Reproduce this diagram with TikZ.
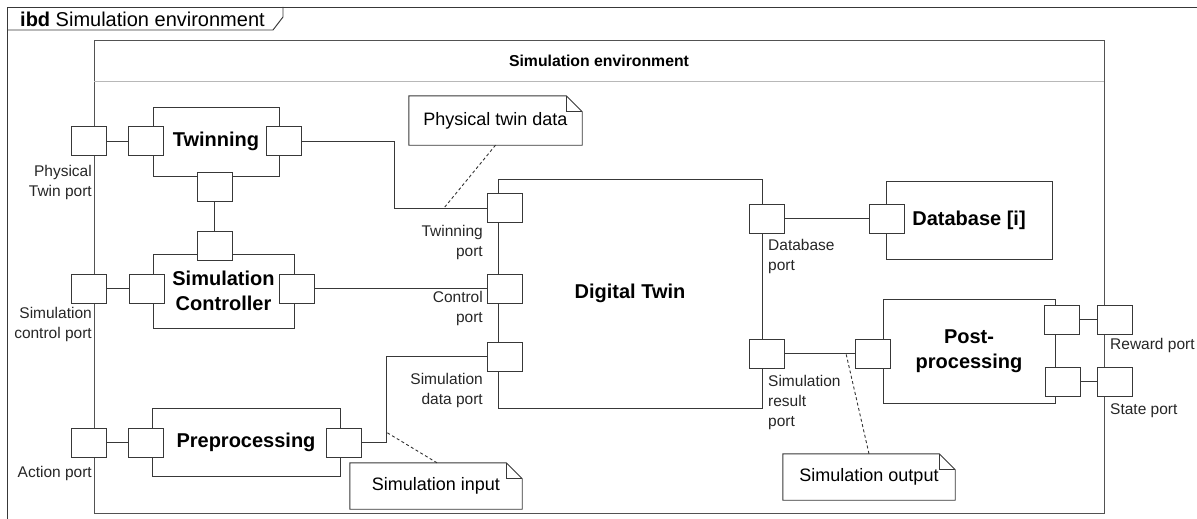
\documentclass[tikz,border=0pt]{standalone}
\usepackage{fontspec}
\setmainfont{Liberation Sans}
\newcommand{\foldnote}[1]{%
  \draw[notel] (#1.north west) -- ([xshift=-16pt]#1.north east)
    -- ([yshift=-16pt]#1.north east) -- (#1.south east)
    -- (#1.south west) -- cycle;
  \draw[notel] ([xshift=-16pt]#1.north east) |- ([yshift=-16pt]#1.north east);}
\begin{document}
\begin{tikzpicture}[x=1pt,y=-1pt,
  ln/.style={draw=black!78, line width=0.95pt},
  notel/.style={draw=black!78, line width=0.9pt},
  block/.style={ln, rectangle, inner sep=0pt, align=center,
    font=\bfseries\fontsize{20}{25}\selectfont},
  port/.style={ln, fill=white, rectangle, inner sep=0pt,
    minimum width=35pt, minimum height=29pt},
  lbl/.style={font=\fontsize{15.5}{20}\selectfont, inner sep=0pt, text=black!85},
  notetext/.style={font=\fontsize{18}{22}\selectfont, inner sep=0pt},
  dotline/.style={draw=black!80, line width=0.9pt, dash pattern=on 3pt off 2.5pt},
]
\path[use as bounding box, clip] (0,0) rectangle (1197,519);

% diagram frame and its name tab
\draw[ln] (7,540) -- (7,7) -- (1220,7);
\draw[ln] (7,30) -- (273,30) -- (283,17) -- (283,7);
\node[anchor=west, inner sep=0pt, font=\fontsize{20}{24}\selectfont] (hdr) at (20,19)
  {\textbf{ibd} Simulation environment};

% enclosing block
\draw[draw=black!68, line width=1pt] (94,41) rectangle (1104,513);
\draw[draw=black!28, line width=0.9pt] (94,81) -- (1104,81);
\node[inner sep=0pt, font=\bfseries\fontsize{15.8}{19}\selectfont] (envtitle) at (599,61)
  {Simulation environment};

% parts
\node[block, minimum width=126pt, minimum height=69pt] (tw) at (216,141.5) {Twinning};
\node[block, minimum width=141pt, minimum height=74pt] (sc) at (223.5,291) {Simulation\\Controller};
\node[block, minimum width=188pt, minimum height=68pt] (pr) at (246,442) {Preprocessing};
\node[block, minimum width=264pt, minimum height=229pt] (dt) at (630,293.5) {Digital Twin};
\node[block, minimum width=166pt, minimum height=78pt] (db) at (969,220) {Database [i]};
\node[block, minimum width=172pt, minimum height=104pt] (pp) at (969,351) {Post-\\processing};

% ports
\node[port] (pTw) at (88.5,141) {};
\node[port] (pSc) at (88.5,288.5) {};
\node[port] (pAc) at (88.5,442.5) {};
\node[port] (twL) at (145.5,141) {};
\node[port] (twR) at (284,141) {};
\node[port] (twB) at (214.5,187) {};
\node[port] (scT) at (214.5,245.5) {};
\node[port] (scL) at (146.5,288.5) {};
\node[port] (scR) at (296.5,288.5) {};
\node[port] (prL) at (145.5,442.5) {};
\node[port] (prR) at (343.5,442.5) {};
\node[port] (dtTw) at (504.5,208) {};
\node[port] (dtC) at (504.5,288.5) {};
\node[port] (dtSd) at (504.5,356.5) {};
\node[port] (dtDb) at (766.5,218.5) {};
\node[port] (dtSr) at (766.5,353.5) {};
\node[port] (dbL) at (886.5,218.5) {};
\node[port] (ppL) at (873,353.5) {};
\node[port] (ppR1) at (1061.5,319.5) {};
\node[port] (ppR2) at (1062.5,381.5) {};
\node[port] (pRw) at (1114.5,319.5) {};
\node[port] (pSt) at (1114.5,381.5) {};

% port labels
\node[lbl, anchor=north east, align=right] (lTw) at (92,165) {Physical\\Twin port};
\node[lbl, anchor=north east, align=right] (lSc) at (92,307) {Simulation\\control port};
\node[lbl, anchor=north east, align=right] (lAc) at (92,466) {Action port};
\node[lbl, anchor=north east, align=right] (lDtTw) at (483,225) {Twinning\\port};
\node[lbl, anchor=north east, align=right] (lDtC) at (483,291) {Control\\port};
\node[lbl, anchor=north east, align=right] (lDtSd) at (483,373) {Simulation\\data port};
\node[lbl, anchor=north west, align=left] (lDtDb) at (768,239) {Database\\port};
\node[lbl, anchor=north west, align=left] (lDtSr) at (768,375) {Simulation\\result\\port};
\node[lbl, anchor=north west] (lRw) at (1110,338) {Reward port};
\node[lbl, anchor=north west] (lSt) at (1110,403) {State port};

% connectors
\coordinate (bTw) at (394,141);
\coordinate (bPr) at (386,442.5);
\draw[ln] (pTw) -- (twL);
\draw[ln] (pSc) -- (scL);
\draw[ln] (pAc) -- (prL);
\draw[ln] (twB) -- (scT);
\draw[ln] (twR.east) -- (bTw) |- (dtTw.west);
\draw[ln] (scR.east) -- (dtC.west);
\draw[ln] (prR.east) -- (bPr) |- (dtSd.west);
\draw[ln] (dtDb.east) -- (dbL.west);
\draw[ln] (dtSr.east) -- (ppL.west);
\draw[ln] (ppR1.east) -- (pRw.west);
\draw[ln] (ppR2.east) -- (pSt.west);

% comments
\node[notetext, minimum width=173pt, minimum height=49pt] (n1) at (495.5,120.5) {Physical twin data};
\node[notetext, minimum width=172pt, minimum height=46pt] (n2) at (436,486) {Simulation input};
\node[notetext, minimum width=172pt, minimum height=46pt] (n3) at (869,477) {Simulation output};
\foldnote{n1}
\foldnote{n2}
\foldnote{n3}
\coordinate (c1) at (444,208);
\coordinate (c2) at (386,432);
\coordinate (c3) at (846,353.5);
\draw[dotline] (n1.south) -- (c1);
\draw[dotline] ([xshift=1pt]n2.north) -- (c2);
\draw[dotline] (n3.north) -- (c3);
\end{tikzpicture}
\end{document}
